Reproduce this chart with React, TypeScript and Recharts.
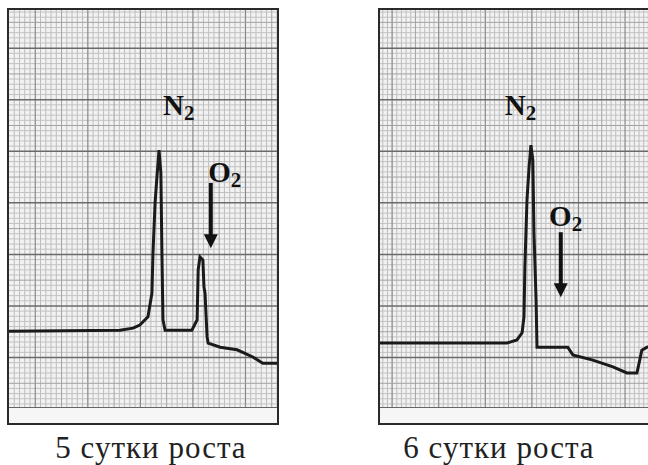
import { ComposedChart, Line, XAxis, YAxis, ReferenceLine, ReferenceDot } from "recharts";

// 5 сутки: время (деления ленты) и сигнал детектора (деления)
const day5Time = [0, 21.1, 23.6, 24.9, 26.45, 27.2, 27.4, 27.8, 28.15, 28.55, 28.9, 29.1, 29.3, 29.7, 34.8, 35.8, 36.0, 36.35, 36.9, 37.1, 37.3, 37.7, 37.9, 40.2, 43.4, 46.4, 48.3, 51];
const day5Signal = [15.1, 15.3, 15.7, 16.3, 17.9, 22.5, 30.3, 40.0, 45.0, 50.2, 45.8, 30.3, 17.3, 15.3, 15.3, 17.3, 27.0, 29.5, 28.9, 23.7, 22.5, 14.0, 12.8, 12.0, 11.5, 10.1, 8.9, 8.9];

// 6 сутки
const day6Time = [2.4, 29.65, 31.8, 32.9, 33.3, 33.5, 33.95, 34.4, 34.8, 35.2, 35.45, 35.9, 36.1, 42.7, 43.8, 48.1, 52.4, 55.4, 57.55, 58.6, 59.7, 62.5];
const day6Signal = [12.8, 12.8, 13.4, 14.8, 17.9, 27.6, 40.55, 46.95, 51.2, 48.3, 34.15, 21.2, 12.0, 12.0, 10.5, 9.5, 8.2, 7.0, 7.0, 11.4, 12.0, 12.3];

const captions = ["5 сутки роста", "6 сутки роста"];

// подписи пиков: [x, y] в делениях
const day5N2 = [29.3, 57.0];
const day5O2 = [37.9, 44.0];
const day5Arrow = [38.4, 43.85, 31.2];
const day6N2 = [29.2, 57.0];
const day6O2 = [38.7, 35.6];
const day6Arrow = [41.2, 34.3, 21.7];

const Y_DOMAIN: [number, number] = [0.4, 77.4];
const SERIF = "'Times New Roman', 'Liberation Serif', Tinos, 'DejaVu Serif', serif";

const range = (a: number, b: number, step = 1) => {
  const out: number[] = [];
  for (let v = a; v <= b + 1e-9; v += step) out.push(v);
  return out;
};

const Gas = (name: string) => (props: any) => (
  <text x={props.cx} y={props.cy} style={{ fontFamily: SERIF, fontWeight: 700, fontSize: 29 }} fill="#111">
    {name}
    <tspan style={{ fontSize: 21 }} dy={5}>2</tspan>
  </text>
);

const Arrow = (props: any) => {
  const x = props.x1;
  const top = Math.min(props.y1, props.y2);
  const tip = Math.max(props.y1, props.y2);
  return (
    <g>
      <line x1={x} y1={top} x2={x} y2={tip - 12} stroke="#111" strokeWidth={4} />
      <polygon points={`${x - 7},${tip - 14} ${x + 7},${tip - 14} ${x},${tip}`} fill="#111" />
    </g>
  );
};

type PanelProps = {
  time: number[];
  signal: number[];
  xDomain: [number, number];
  width: number;
  n2: number[];
  o2: number[];
  arrow: number[];
};

function Chromatogram({ time, signal, xDomain, width, n2, o2, arrow }: PanelProps) {
  const data = time.map((t, i) => ({ t, v: signal[i] }));
  const xFine = range(Math.ceil(xDomain[0]), Math.floor(xDomain[1])).filter((v) => v % 5 !== 0);
  const yFine = range(1, 77).filter((v) => v % 5 !== 0);
  const xMajor = range(5, xDomain[1], 10);
  const xHalf = range(10, xDomain[1], 10);
  const yMajor = range(10, 70, 10);
  const yHalf = range(5, 75, 10);

  return (
    <ComposedChart width={width} height={397} data={data} margin={{ top: 0, right: 0, bottom: 0, left: 0 }} style={{ background: "#f2f2f2" }}>
      <XAxis dataKey="t" type="number" domain={xDomain} allowDataOverflow hide />
      <YAxis type="number" domain={Y_DOMAIN} allowDataOverflow hide />
      {xFine.map((v) => (
        <ReferenceLine key={`xf${v}`} x={v} stroke="#bdbdbd" strokeWidth={1} />
      ))}
      {yFine.map((v) => (
        <ReferenceLine key={`yf${v}`} y={v} stroke="#c2c2c2" strokeWidth={1} />
      ))}
      {xHalf.map((v) => (
        <ReferenceLine key={`xh${v}`} x={v} stroke="#a2a2a2" strokeWidth={1} />
      ))}
      {xMajor.map((v) => (
        <ReferenceLine key={`xm${v}`} x={v} stroke="#888" strokeWidth={1.2} />
      ))}
      {yHalf.map((v) => (
        <ReferenceLine key={`yh${v}`} y={v} stroke="#a2a2a2" strokeWidth={1} />
      ))}
      {yMajor.map((v) => (
        <ReferenceLine key={`ym${v}`} y={v} stroke="#6a6a6a" strokeWidth={1.5} />
      ))}
      <Line dataKey="v" type="linear" stroke="#1a1a1a" strokeWidth={3} dot={false} isAnimationActive={false} />
      <ReferenceLine segment={[{ x: arrow[0], y: arrow[1] }, { x: arrow[0], y: arrow[2] }]} shape={Arrow} />
      <ReferenceDot x={n2[0]} y={n2[1]} r={0} shape={Gas("N")} />
      <ReferenceDot x={o2[0]} y={o2[1]} r={0} shape={Gas("O")} />
    </ComposedChart>
  );
}

const frame: React.CSSProperties = {
  position: "absolute",
  top: 8,
  height: 413,
  border: "2px solid #2a2a2a",
  overflow: "hidden",
  background: "#f2f2f2",
};

const strip: React.CSSProperties = {
  height: 15,
  borderTop: "1px solid #666",
  background: "#f6f6f6",
};

const captionStyle: React.CSSProperties = {
  position: "absolute",
  top: 430,
  width: 260,
  textAlign: "center",
  fontFamily: SERIF,
  fontSize: 31,
  letterSpacing: 1,
  color: "#222",
  lineHeight: "36px",
};

export default function App() {
  return (
    <div style={{ position: "absolute", top: 0, left: 0, width: 648, height: 465, overflow: "hidden", background: "#fff" }}>
      <div style={{ ...frame, left: 7, width: 268 }}>
        <Chromatogram time={day5Time} signal={day5Signal} xDomain={[0, 51]} width={268} n2={day5N2} o2={day5O2} arrow={day5Arrow} />
        <div style={strip} />
      </div>
      <div style={{ ...frame, left: 378, width: 280 }}>
        <Chromatogram time={day6Time} signal={day6Signal} xDomain={[2.4, 62.5]} width={280} n2={day6N2} o2={day6O2} arrow={day6Arrow} />
        <div style={strip} />
      </div>
      <div style={{ ...captionStyle, left: 21 }}>{captions[0]}</div>
      <div style={{ ...captionStyle, left: 369 }}>{captions[1]}</div>
    </div>
  );
}
